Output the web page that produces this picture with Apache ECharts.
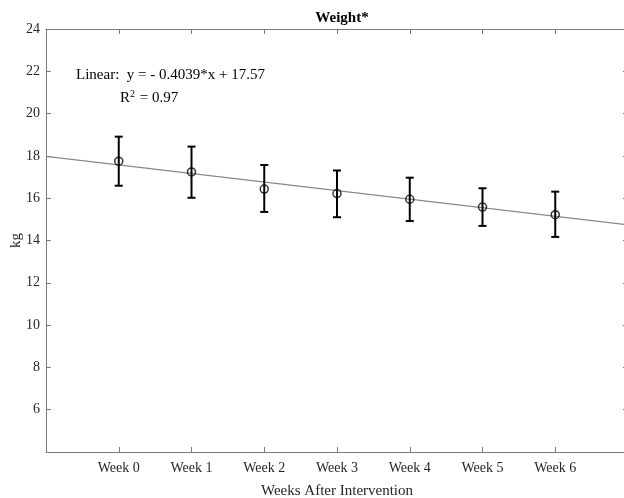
<!DOCTYPE html>
<html>
<head>
<meta charset="utf-8">
<script src="https://cdn.jsdelivr.net/npm/echarts@6/dist/echarts.min.js"></script>
<style>
  html, body { margin: 0; padding: 0; background: #fff; }
  #main { width: 624px; height: 498px; }
</style>
</head>
<body>
<div id="main"></div>
<script>
// data
const weeks = [0, 1, 2, 3, 4, 5, 6];
const weekLabels = ['Week 0', 'Week 1', 'Week 2', 'Week 3', 'Week 4', 'Week 5', 'Week 6'];
const meanKg = [17.75, 17.24, 16.43, 16.22, 15.95, 15.58, 15.22];
const upperKg = [18.91, 18.44, 17.57, 17.31, 16.97, 16.47, 16.31];
const lowerKg = [16.59, 16.02, 15.35, 15.10, 14.92, 14.69, 14.17];
const fitSlope = -0.4039;
const fitIntercept = 17.57;
const fitRange = [-1, 7];

const font = 'Liberation Serif';
const axisGray = '#7a7a7a';
const textDark = '#262626';

const chart = echarts.init(document.getElementById('main'));

const fitData = fitRange.map(x => [x, fitSlope * x + fitIntercept]);
const barData = weeks.map((w, i) => [w, lowerKg[i], upperKg[i]]);
const pointData = weeks.map((w, i) => [w, meanKg[i]]);

function xLabel(v) {
  const i = weeks.indexOf(v);
  return i >= 0 ? weekLabels[i] : '';
}

const xBase = {
  type: 'value', min: -1, max: 7, interval: 1,
  axisLine: { show: true, onZero: false, lineStyle: { color: axisGray, width: 1 } },
  axisTick: { show: true, inside: true, length: 5, lineStyle: { color: axisGray } },
  splitLine: { show: false }
};
const yBase = {
  type: 'value', min: 4, max: 24, interval: 2,
  axisLine: { show: true, onZero: false, lineStyle: { color: axisGray, width: 1 } },
  axisTick: { show: true, inside: true, length: 5, lineStyle: { color: axisGray } },
  splitLine: { show: false }
};

chart.setOption({
  animation: false,
  backgroundColor: '#fff',
  textStyle: { fontFamily: font },
  title: {
    text: 'Weight*',
    left: 337, top: 6, textAlign: 'center',
    textStyle: { fontFamily: font, fontSize: 15, fontWeight: 'bold', color: '#000' }
  },
  grid: { left: 46, top: 29, width: 582, height: 423, outerBoundsMode: 'none', containLabel: false },
  xAxis: [
    Object.assign({}, xBase, {
      position: 'bottom',
      name: 'Weeks After Intervention',
      nameLocation: 'middle', nameGap: 32,
      nameTextStyle: { fontFamily: font, fontSize: 15, color: textDark },
      axisLabel: { formatter: xLabel, margin: 9, fontFamily: font, fontSize: 14, color: textDark }
    }),
    Object.assign({}, xBase, { position: 'top', axisLabel: { show: false } })
  ],
  yAxis: [
    Object.assign({}, yBase, {
      position: 'left',
      name: 'kg',
      nameLocation: 'middle', nameGap: 22, nameMoveOverlap: false,
      nameTextStyle: { fontFamily: font, fontSize: 15, color: textDark },
      axisLabel: {
        formatter: v => (v === 4 ? '' : String(v)),
        margin: 6, fontFamily: font, fontSize: 14, color: textDark
      }
    }),
    Object.assign({}, yBase, { position: 'right', axisLabel: { show: false } })
  ],
  graphic: [
    {
      type: 'text', left: 76, top: 68,
      style: { text: 'Linear:  y = - 0.4039*x + 17.57', font: '15px "Liberation Serif"', fill: '#000' }
    },
    {
      type: 'text', left: 120, top: 89,
      style: {
        text: 'R{sup|2} = 0.97',
        font: '15px "Liberation Serif"', fill: '#000',
        rich: { sup: { fontSize: 10, fontFamily: font, verticalAlign: 'top', padding: [0, 1, 8, 0] } }
      }
    }
  ],
  series: [
    {
      type: 'line',
      data: fitData,
      symbol: 'none',
      lineStyle: { color: '#888', width: 1.3 },
      z: 1
    },
    {
      type: 'custom',
      data: barData,
      z: 2,
      renderItem: (params, api) => {
        const x = api.value(0);
        const lo = api.coord([x, api.value(1)]);
        const hi = api.coord([x, api.value(2)]);
        const cap = 4;
        const style = { stroke: '#000', lineWidth: 2 };
        return {
          type: 'group',
          children: [
            { type: 'line', shape: { x1: lo[0], y1: lo[1], x2: hi[0], y2: hi[1] }, style },
            { type: 'line', shape: { x1: hi[0] - cap, y1: hi[1], x2: hi[0] + cap, y2: hi[1] }, style },
            { type: 'line', shape: { x1: lo[0] - cap, y1: lo[1], x2: lo[0] + cap, y2: lo[1] }, style }
          ]
        };
      }
    },
    {
      type: 'scatter',
      data: pointData,
      symbol: 'circle',
      symbolSize: 8,
      itemStyle: { color: 'rgba(255,255,255,0)', borderColor: '#000', borderWidth: 1.5 },
      z: 3
    }
  ]
});
</script>
</body>
</html>
